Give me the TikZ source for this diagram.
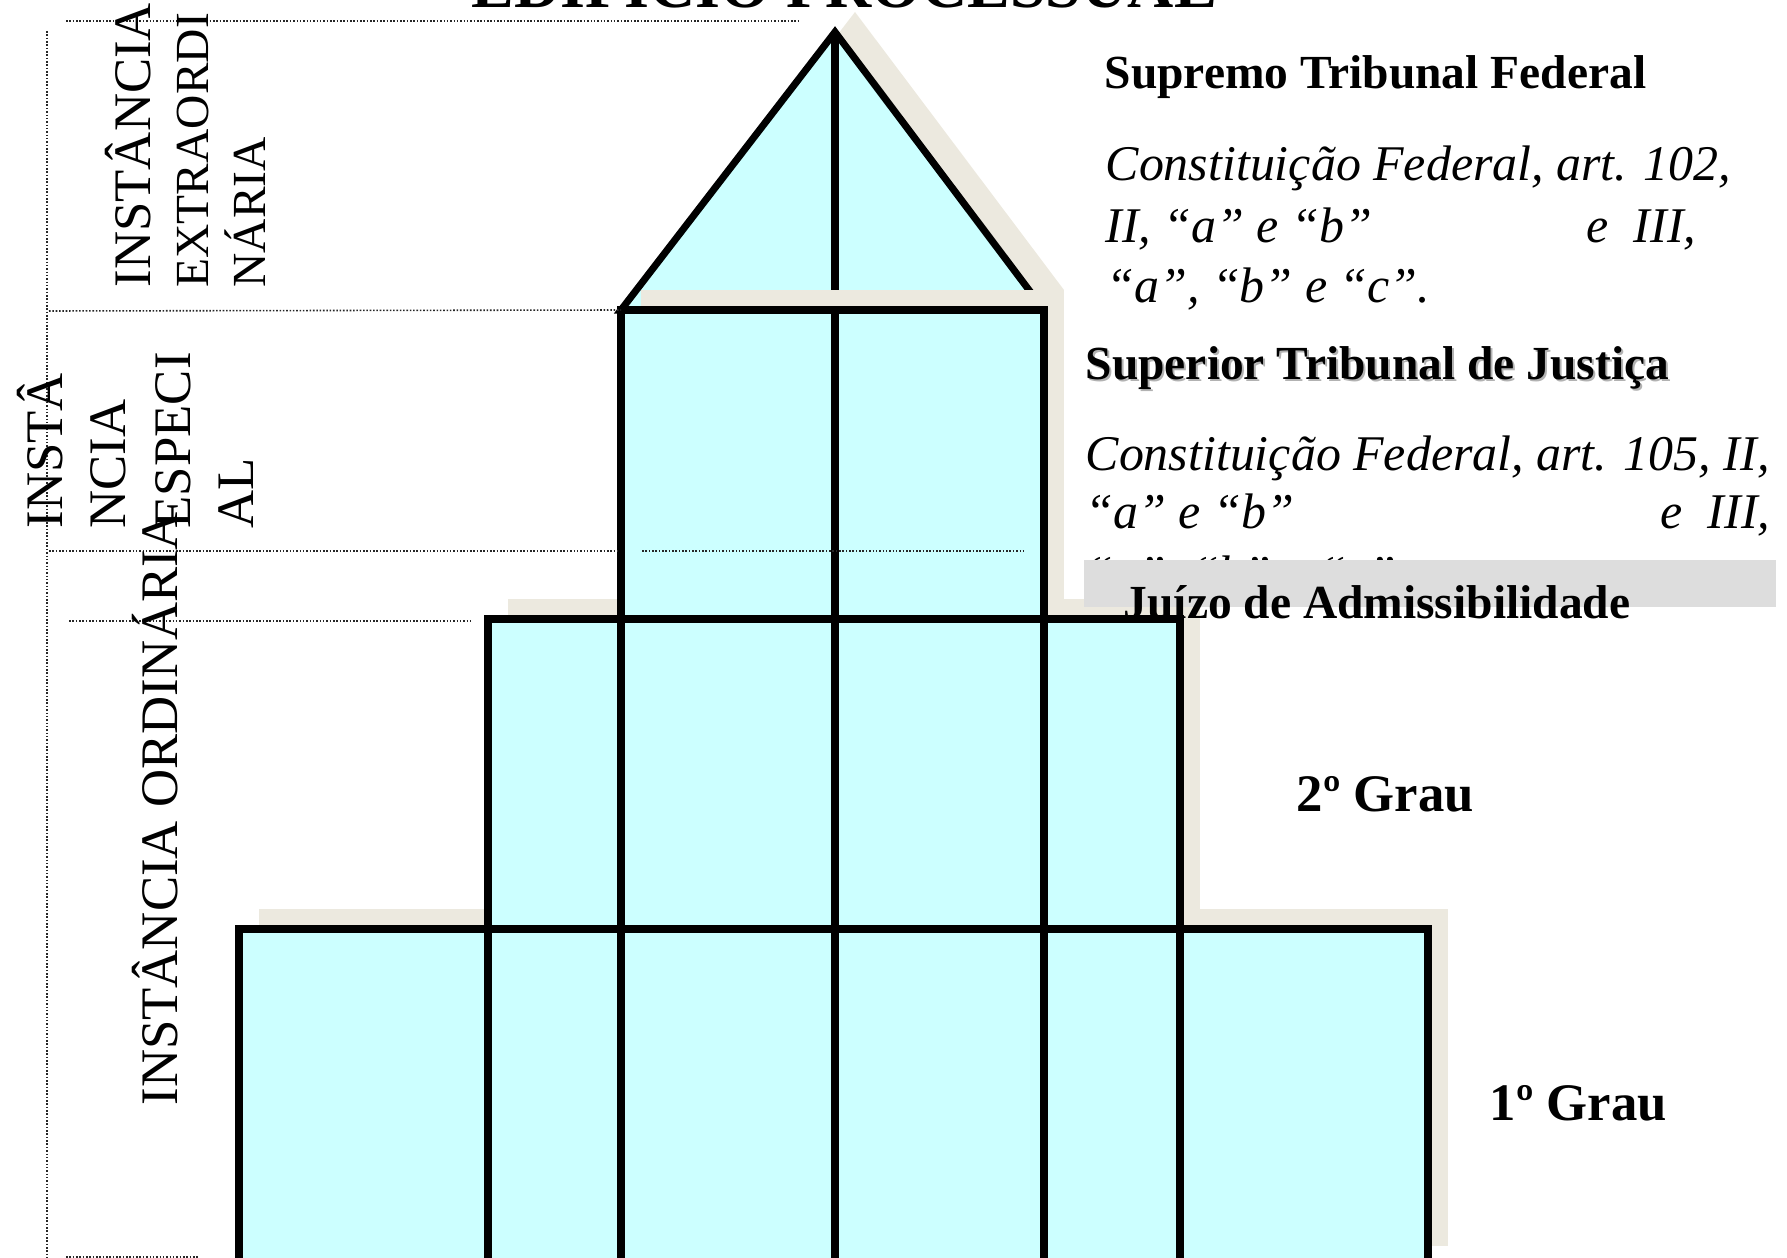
\documentclass[tikz,border=0pt]{standalone}
\usepackage{fontspec}
\setmainfont{Liberation Serif}
\usepackage{tikz}
\usetikzlibrary{positioning}
\usetikzlibrary{calc}
\usepackage{xcolor}
\definecolor{predio}{RGB}{204,255,255}
\definecolor{sombra}{RGB}{236,233,223}
\definecolor{faixa}{RGB}{221,221,221}
\pgfkeys{tikz/mytier/.style={fill=predio,draw=black,line width=2pt}}
\pgfkeys{tikz/myshadow/.style={fill=sombra}}
\pgfkeys{tikz/myline/.style={draw=black,line width=2pt}}
\pgfkeys{tikz/mydots/.style={draw=black!85,line width=0.45pt,dash pattern=on 0.45pt off 0.5pt}}
\pgfkeys{tikz/mybold/.style={font=\fontsize{13.5pt}{16pt}\selectfont\bfseries,inner sep=0pt,anchor=base west}}
\pgfkeys{tikz/mygrau/.style={font=\fontsize{15pt}{17pt}\selectfont\bfseries,inner sep=0pt,anchor=base west}}
\pgfkeys{tikz/myital/.style={font=\fontsize{14.2pt}{16pt}\selectfont\itshape,inner sep=0pt,anchor=base west}}
\pgfkeys{tikz/myvert/.style={font=\fontsize{15pt}{17pt}\selectfont,inner sep=0pt,anchor=base west,rotate=90}}

\begin{document}
\begin{tikzpicture}[x=0.01cm,y=-0.01cm]

	\useasboundingbox (0,0) rectangle (1787,1258);

	% pontos do predio
	\coordinate (apex) at (835,32);
	\coordinate (topo-nw) at (621,310);
	\coordinate (topo-se) at (1044,619);
	\coordinate (meio-nw) at (488,619);
	\coordinate (meio-se) at (1180,929);
	\coordinate (base-nw) at (239,929);
	\coordinate (base-se) at (1428,1266);

	% 1o grau
	\fill[myshadow] ($(base-nw)+(20,-20)$) rectangle ($(base-se)+(20,-20)$);
	\draw[mytier] (base-nw) rectangle (base-se);
	\draw[myline] (488,929) -- (488,1266);
	\draw[myline] (621,929) -- (621,1266);
	\draw[myline] (835,929) -- (835,1266);
	\draw[myline] (1044,929) -- (1044,1266);
	\draw[myline] (1180,929) -- (1180,1266);

	% 2o grau
	\fill[myshadow] ($(meio-nw)+(20,-20)$) rectangle ($(meio-se)+(20,-20)$);
	\draw[mytier] (meio-nw) rectangle (meio-se);
	\draw[myline] (621,619) -- (621,929);
	\draw[myline] (835,619) -- (835,929);
	\draw[myline] (1044,619) -- (1044,929);

	% telhado
	\fill[myshadow] ($(apex)+(20,-20)$) -- ($(topo-nw)+(20,-20)$) -- ($(1044,310)+(20,-20)$) -- cycle;
	\draw[mytier] (apex) -- (topo-nw) -- (1044,310) -- cycle;
	\draw[myline] (apex) -- (835,310);

	% STJ
	\fill[myshadow] ($(topo-nw)+(20,-20)$) rectangle ($(topo-se)+(20,-20)$);
	\draw[mytier] (topo-nw) rectangle (topo-se);
	\draw[myline] (835,310) -- (835,619);

	% linhas pontilhadas
	\draw[mydots] (66,21) -- (798,21);
	\draw[mydots] (47,31) -- (47,1258);
	\draw[mydots] (49,311) -- (topo-nw);
	\draw[mydots] (49,551) -- (617,551);
	\draw[mydots] (642,551) -- (1023,551);
	\draw[mydots] (69,621) -- (471,621);
	\draw[mydots] (66,1257) -- (199,1257);

	\node[font=\fontsize{18.2pt}{20pt}\selectfont\bfseries,inner sep=0pt,anchor=base west] (titulo) at (471,8) {EDIFÍCIO PROCESSUAL};

	% textos da direita
	\node[mybold] (stf) at (1104,89) {Supremo Tribunal Federal};
	\node[myital] (stf1) at (1105,181) {Constituição Federal, art. 102,};
	\node[myital] (stf2) at (1105,243) {II, “a” e “b”};
	\node[myital,anchor=base east] (stf2b) at (1697,243) {e\ \ III,};
	\node[myital] (stf3) at (1106,303) {“a”, “b” e “c”.};

	\node[mybold,text=black!30] (stjsombra) at (1087,382) {Superior Tribunal de Justiça};
	\node[mybold] (stj) at (1085,380) {Superior Tribunal de Justiça};
	\node[myital] (stj1) at (1085,471) {Constituição Federal, art. 105, II,};
	\node[myital] (stj2) at (1085,529) {“a” e “b”};
	\node[myital,anchor=base east] (stj2b) at (1771,529) {e\ \ III,};
	\node[myital] (stj3) at (1085,591) {“a”, “b” e “c”.};

	\fill[faixa] (1084,560) rectangle (1776,607);
	\node[mybold] (juizo) at (1123,619) {Juízo de Admissibilidade};

	\node[mygrau] (grau2) at (1296,811) {2º Grau};
	\node[mygrau] (grau1) at (1489,1120) {1º Grau};

	% textos verticais
	\node[myvert] (extra1) at (150,288) {INSTÂNCIA};
	\node[myvert,font=\fontsize{13.5pt}{16pt}\selectfont] (extra2) at (208,288) {EXTRAORDI};
	\node[myvert,font=\fontsize{13.5pt}{16pt}\selectfont] (extra3) at (265,288) {NÁRIA};

	\node[myvert] (esp1) at (62,529) {INSTÂ};
	\node[myvert] (esp2) at (126,529) {NCIA};
	\node[myvert] (esp3) at (190,529) {ESPECI};
	\node[myvert] (esp4) at (253,529) {AL};

	\node[myvert] (ordinaria) at (177,1106) {INSTÂNCIA ORDINÁRIA};

\end{tikzpicture}
\end{document}
